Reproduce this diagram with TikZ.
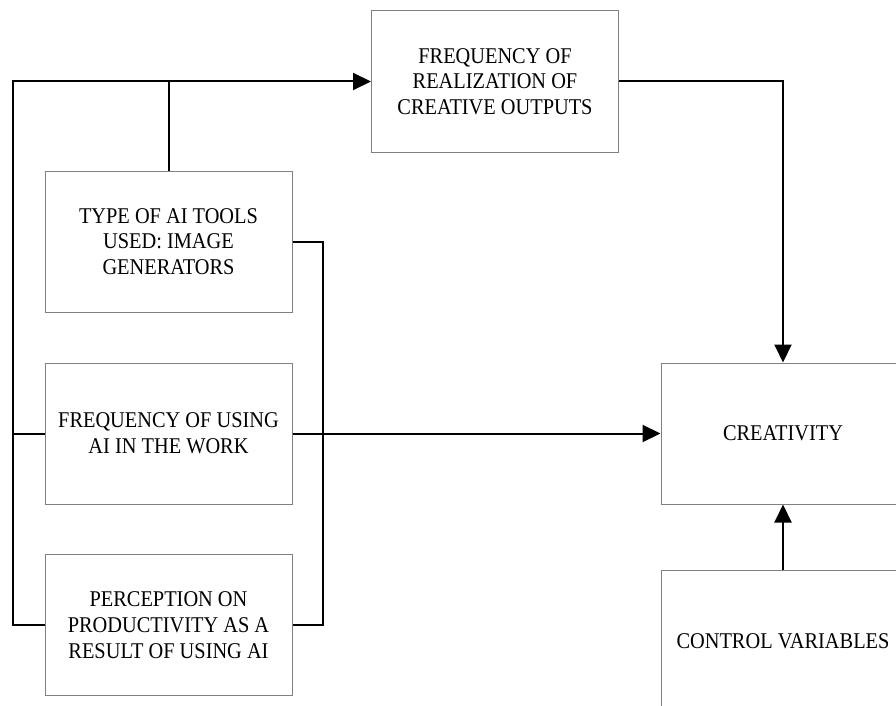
\documentclass[tikz,border=0pt]{standalone}
\usepackage{fontspec}
\setmainfont[FakeStretch=0.905]{Liberation Serif}
\usetikzlibrary{arrows.meta}
\definecolor{boxgray}{RGB}{128,128,128}
\begin{document}
\begin{tikzpicture}[x=1pt,y=-1pt,
  box/.style={draw=boxgray, line width=1pt, minimum width=247pt, minimum height=141pt,
    inner sep=0pt, align=center, font=\fontsize{22.5}{25.7}\selectfont},
  conn/.style={line width=2pt},
  arr/.style={conn, -{Triangle[length=18pt,width=17pt]}}]
\useasboundingbox (0,0) rectangle (896,706);
\clip (0,0) rectangle (896,706);
\node[box] (out) at (495,81.5) {FREQUENCY OF\\REALIZATION OF\\CREATIVE OUTPUTS};
\node[box] (type) at (168.5,241.5) {TYPE OF AI TOOLS\\USED: IMAGE\\GENERATORS};
\node[box] (freq) at (168.5,433.5) {FREQUENCY OF USING\\AI IN THE WORK};
\node[box] (perc) at (168.5,625) {PERCEPTION ON\\PRODUCTIVITY AS A\\RESULT OF USING AI};
\node[box, minimum width=244pt] (creat) at (783,433.5) {CREATIVITY};
\node[box, minimum width=244pt, minimum height=142pt] (ctrl) at (783,641) {CONTROL VARIABLES};
\coordinate (lt) at (13,81.5);
\coordinate (lb) at (13,625);
\coordinate (lm) at (13,433.5);
\coordinate (tj) at (168.5,81.5);
\coordinate (rt) at (323,241.5);
\coordinate (rb) at (323,625);
\coordinate (ot) at (783,81.5);
\draw[arr] (perc.west) -- (lb) -- (lt) -- (out.west);
\draw[conn] (freq.west) -- (lm);
\draw[conn] (type.north) -- (tj);
\draw[conn] (type.east) -- (rt) -- (rb) -- (perc.east);
\draw[arr] (freq.east) -- (creat.west);
\draw[arr] (out.east) -- (ot) -- (creat.north);
\draw[arr] (ctrl.north) -- (creat.south);
\end{tikzpicture}
\end{document}
